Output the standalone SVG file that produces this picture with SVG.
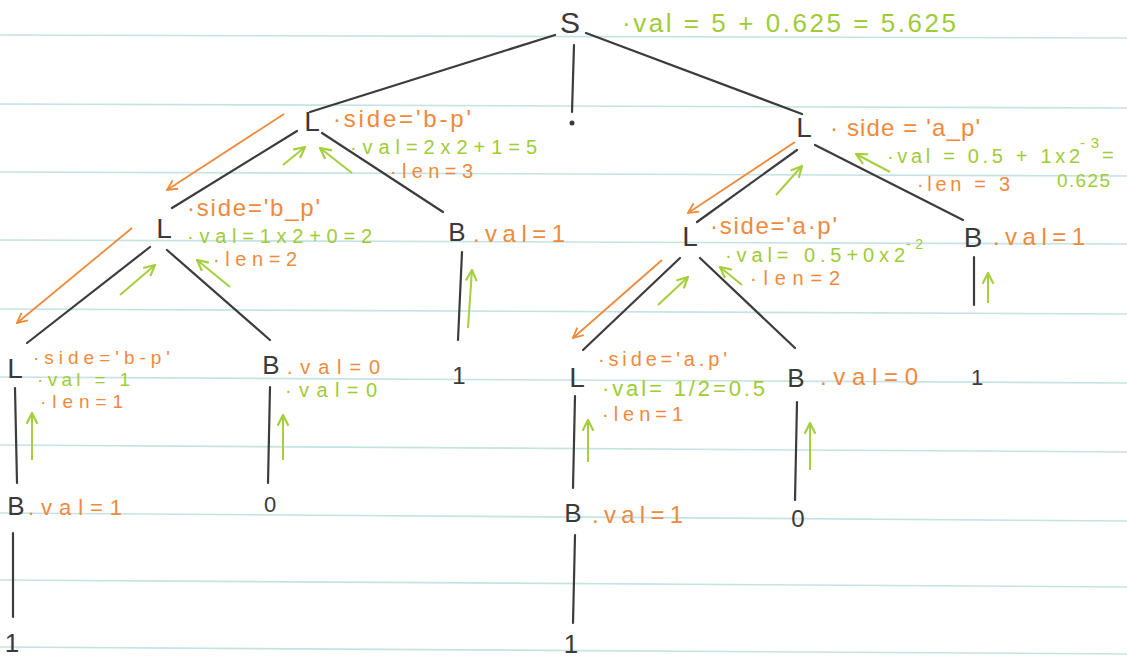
<svg xmlns="http://www.w3.org/2000/svg" width="1127" height="659" viewBox="0 0 1127 659">
<defs>
<style>
.rule{stroke:#c5e2e4;stroke-width:1.6;fill:none}
.edge{stroke:#3c3c3c;stroke-width:2.2;fill:none;stroke-linecap:round}
.oarr{stroke:#ef8a3c;stroke-width:1.8;fill:none;marker-end:url(#mo)}
.garr{stroke:#a5cf3c;stroke-width:2;fill:none;marker-end:url(#mg)}
.sym{font-family:"Liberation Sans",Arial,sans-serif;fill:#3a3a3a;text-anchor:middle}
.or{font-family:"Liberation Sans",Arial,sans-serif;fill:#ef8a3c}
.gr{font-family:"Liberation Sans",Arial,sans-serif;fill:#9fcb38}
</style>
<marker id="mo" viewBox="0 0 12 12" refX="11" refY="6" markerWidth="12" markerHeight="12" markerUnits="userSpaceOnUse" orient="auto">
<path d="M1,1 L11,6 L1,11" fill="none" stroke="#ef8a3c" stroke-width="1.8"/>
</marker>
<marker id="mg" viewBox="0 0 12 12" refX="11" refY="6" markerWidth="13" markerHeight="13" markerUnits="userSpaceOnUse" orient="auto">
<path d="M1,1 L11,6 L1,11" fill="none" stroke="#a5cf3c" stroke-width="2"/>
</marker>
</defs>
<rect width="1127" height="659" fill="#ffffff"/>
<g id="ruling">
<line class="rule" x1="0" y1="35" x2="1127" y2="38"/>
<line class="rule" x1="0" y1="104" x2="1127" y2="108"/>
<line class="rule" x1="0" y1="172" x2="1127" y2="176"/>
<line class="rule" x1="0" y1="240" x2="1127" y2="244"/>
<line class="rule" x1="0" y1="309" x2="1127" y2="314"/>
<line class="rule" x1="0" y1="377" x2="1127" y2="383"/>
<line class="rule" x1="0" y1="445" x2="1127" y2="452"/>
<line class="rule" x1="0" y1="513" x2="1127" y2="521"/>
<line class="rule" x1="0" y1="580" x2="1127" y2="587"/>
<line class="rule" x1="0" y1="647" x2="1127" y2="654"/>
</g>
<g id="connectors">
<line class="edge" x1="555" y1="35" x2="310" y2="112"/>
<line class="edge" x1="574" y1="45" x2="572" y2="112"/>
<circle cx="572" cy="123" r="2.5" fill="#3a3a3a"/>
<line class="edge" x1="586" y1="33" x2="802" y2="114"/>
<line class="edge" x1="297" y1="131" x2="172" y2="208"/>
<line class="edge" x1="322" y1="133" x2="443" y2="212"/>
<line class="edge" x1="150" y1="247" x2="27" y2="343"/>
<line class="edge" x1="167" y1="250" x2="270" y2="340"/>
<line class="edge" x1="462" y1="252" x2="458" y2="340"/>
<line class="edge" x1="15" y1="388" x2="17" y2="483"/>
<line class="edge" x1="13" y1="533" x2="13" y2="617"/>
<line class="edge" x1="270" y1="387" x2="268" y2="483"/>
<line class="edge" x1="797" y1="150" x2="697" y2="222"/>
<line class="edge" x1="815" y1="145" x2="963" y2="220"/>
<line class="edge" x1="680" y1="258" x2="583" y2="350"/>
<line class="edge" x1="700" y1="258" x2="795" y2="348"/>
<line class="edge" x1="575" y1="396" x2="573" y2="488"/>
<line class="edge" x1="575" y1="535" x2="573" y2="623"/>
<line class="edge" x1="797" y1="402" x2="795" y2="500"/>
<line class="edge" x1="974" y1="257" x2="974" y2="305"/>
<line class="oarr" x1="284" y1="114" x2="167" y2="190"/>
<line class="oarr" x1="132" y1="228" x2="17" y2="323"/>
<line class="oarr" x1="795" y1="142" x2="688" y2="213"/>
<line class="oarr" x1="662" y1="260" x2="573" y2="338"/>
<line class="garr" x1="283" y1="165" x2="305" y2="147"/>
<line class="garr" x1="352" y1="173" x2="320" y2="148"/>
<line class="garr" x1="120" y1="295" x2="155" y2="265"/>
<line class="garr" x1="230" y1="287" x2="197" y2="260"/>
<line class="garr" x1="468" y1="328" x2="472" y2="270"/>
<line class="garr" x1="32" y1="460" x2="32" y2="413"/>
<line class="garr" x1="283" y1="460" x2="283" y2="415"/>
<line class="garr" x1="776" y1="195" x2="802" y2="166"/>
<line class="garr" x1="890" y1="172" x2="856" y2="154"/>
<line class="garr" x1="658" y1="305" x2="688" y2="277"/>
<line class="garr" x1="742" y1="285" x2="720" y2="267"/>
<line class="garr" x1="988" y1="303" x2="988" y2="273"/>
<line class="garr" x1="588" y1="462" x2="588" y2="420"/>
<line class="garr" x1="810" y1="470" x2="810" y2="423"/>
</g>
<g id="node-S">
<text class="sym" x="570" y="33" font-size="30">S</text>
<text class="gr" x="622" y="32" font-size="26" textLength="334">·val = 5 + 0.625 = 5.625</text>
</g>
<g id="node-L-left">
<text class="sym" x="312" y="131" font-size="28">L</text>
<text class="or" x="333" y="127" font-size="24" textLength="138">·side='b-p'</text>
<text class="gr" x="350" y="154" font-size="20" textLength="187">·val=2x2+1=5</text>
<text class="or" x="390" y="178" font-size="20" textLength="83">·len=3</text>
</g>
<g id="node-L-left-left">
<text class="sym" x="164" y="238" font-size="28">L</text>
<text class="or" x="187" y="216" font-size="24" textLength="133">·side='b_p'</text>
<text class="gr" x="187" y="243" font-size="20" textLength="185">·val=1x2+0=2</text>
<text class="or" x="213" y="266" font-size="20" textLength="84">·len=2</text>
</g>
<g id="node-B-left-right">
<text class="sym" x="457" y="241" font-size="26">B</text>
<text class="or" x="473" y="242" font-size="24" textLength="92">.val=1</text>
<text class="sym" x="459" y="384" font-size="24">1</text>
</g>
<g id="node-L-leaf-left">
<text class="sym" x="15" y="378" font-size="28">L</text>
<text class="or" x="33" y="364" font-size="19" textLength="137">·side='b-p'</text>
<text class="gr" x="37" y="386" font-size="19" textLength="93">·val = 1</text>
<text class="or" x="40" y="408" font-size="19" textLength="83">·len=1</text>
</g>
<g id="node-B-leaf-left">
<text class="sym" x="16" y="515" font-size="26">B</text>
<text class="or" x="28" y="515" font-size="22" textLength="94">.val=1</text>
<text class="sym" x="12" y="652" font-size="26">1</text>
</g>
<g id="node-B-mid-left">
<text class="sym" x="271" y="374" font-size="26">B</text>
<text class="or" x="287" y="374" font-size="20" textLength="93">.val=0</text>
<text class="gr" x="285" y="397" font-size="20" textLength="92">·val=0</text>
<text class="sym" x="270" y="512" font-size="22">0</text>
</g>
<g id="node-L-right">
<text class="sym" x="804" y="137" font-size="28">L</text>
<text class="or" x="830" y="136" font-size="24" textLength="150">· side = 'a_p'</text>
<text class="gr" x="887" y="163" font-size="20" textLength="193">·val = 0.5 + 1x2</text>
<text class="gr" x="1080" y="148" font-size="15" textLength="19">-3</text>
<text class="gr" x="1102" y="162" font-size="20">=</text>
<text class="gr" x="1057" y="187" font-size="19" textLength="53">0.625</text>
<text class="or" x="917" y="191" font-size="20" textLength="93">·len = 3</text>
</g>
<g id="node-L-right-left">
<text class="sym" x="690" y="246" font-size="28">L</text>
<text class="or" x="710" y="234" font-size="24" textLength="127">·side='a·p'</text>
<text class="gr" x="725" y="262" font-size="20" textLength="180">·val= 0.5+0x2</text>
<text class="gr" x="906" y="249" font-size="14" textLength="17">-2</text>
<text class="or" x="750" y="285" font-size="20" textLength="90">·len=2</text>
</g>
<g id="node-B-right-right">
<text class="sym" x="973" y="247" font-size="28">B</text>
<text class="or" x="993" y="245" font-size="24" textLength="92">.val=1</text>
<text class="sym" x="977" y="385" font-size="22">1</text>
</g>
<g id="node-L-leaf-right">
<text class="sym" x="577" y="387" font-size="28">L</text>
<text class="or" x="598" y="366" font-size="20" textLength="129">·side='a.p'</text>
<text class="gr" x="602" y="396" font-size="22" textLength="163">·val= 1/2=0.5</text>
<text class="or" x="602" y="421" font-size="20" textLength="81">·len=1</text>
</g>
<g id="node-B-leaf-right">
<text class="sym" x="573" y="522" font-size="26">B</text>
<text class="or" x="592" y="523" font-size="24" textLength="91">.val=1</text>
<text class="sym" x="571" y="653" font-size="26">1</text>
</g>
<g id="node-B-mid-right">
<text class="sym" x="796" y="387" font-size="26">B</text>
<text class="or" x="820" y="385" font-size="24" textLength="98">.val=0</text>
<text class="sym" x="798" y="527" font-size="24">0</text>
</g>
</svg>
